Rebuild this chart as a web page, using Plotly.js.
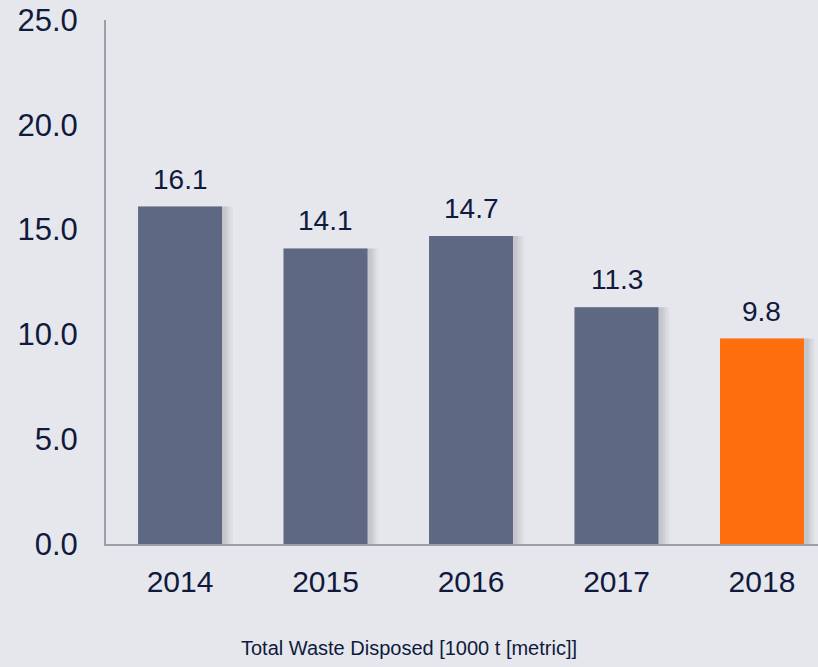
<!DOCTYPE html>
<html><head><meta charset="utf-8">
<script src="https://cdn.plot.ly/plotly-3.0.1.min.js"></script>
<style>html,body{margin:0;padding:0;background:#e6e7ec;}#chart{width:818px;height:667px;}</style>
</head><body><div id="chart"></div>
<script>
const years = ['2014','2015','2016','2017','2018'];
const waste = [16.1, 14.1, 14.7, 11.3, 9.8];
const barColors = ['#5e6882','#5e6882','#5e6882','#5e6882','#fe6e0c'];
const yTicks = [0, 5, 10, 15, 20, 25];
const yTickLabels = ['0.0','5.0','10.0','15.0','20.0','25.0'];
const titleText = 'Total Waste Disposed [1000 t [metric]]';

const txtColor = '#0f1a3d';
const bw = 0.577;
const idx = years.map((_, i) => i);
const traces = [];
// soft shadow layers
const shadowSpecs = [[0.075,0.035],[0.06,0.045],[0.045,0.055],[0.03,0.065]];
shadowSpecs.forEach(s => {
  traces.push({type:'bar', x:idx, y:waste, width:bw+s[0], offset:-bw/2,
    marker:{color:'rgba(60,60,70,'+s[1]+')', line:{width:0}}, hoverinfo:'skip', showlegend:false});
});
traces.push({type:'bar', x:idx, y:waste, width:bw, marker:{color:barColors, line:{width:0}},
  showlegend:false, hoverinfo:'x+y'});

const annotations = idx.map(i => ({x:i, y:waste[i], xref:'x', yref:'y', text:waste[i].toFixed(1),
  showarrow:false, yanchor:'bottom', yshift:10, font:{family:'Liberation Sans, Arial, sans-serif', size:28, color:txtColor}}));

const layout = {
  width:818, height:667,
  paper_bgcolor:'#e6e7ec', plot_bgcolor:'#e6e7ec',
  margin:{l:106, r:0, t:20, b:123},
  barmode:'overlay',
  font:{family:'Liberation Sans, Arial, sans-serif', color:txtColor, size:28},
  showlegend:false,
  xaxis:{type:'linear', range:[-0.509, 4.385], tickvals:idx, ticktext:years, showgrid:false, zeroline:false,
    showline:true, linecolor:'#9d9ea6', linewidth:2, ticks:'', ticklabelstandoff:10,
    tickfont:{size:30, color:txtColor}},
  yaxis:{range:[0,25], tickvals:yTicks, ticktext:yTickLabels, showgrid:false, zeroline:false,
    showline:true, linecolor:'#9d9ea6', linewidth:2, ticks:'', ticklabelstandoff:20,
    tickfont:{size:31, color:txtColor}},
  title:{text:titleText, x:0.5, xref:'container', xanchor:'center', y:1-648/667, yref:'container', yanchor:'middle',
    font:{family:'Liberation Sans, Arial, sans-serif', size:20, color:txtColor}},
  annotations:annotations
};
Plotly.newPlot('chart', traces, layout, {staticPlot:true, displayModeBar:false});
</script></body></html>
